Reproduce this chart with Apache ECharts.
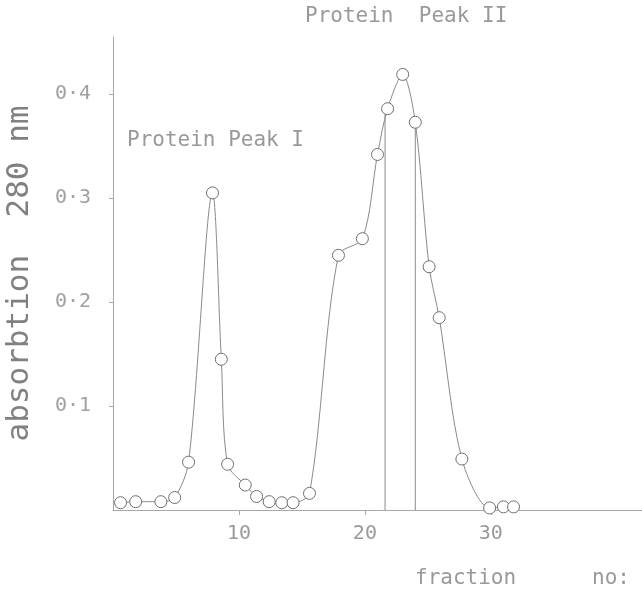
<!DOCTYPE html>
<html>
<head>
<meta charset="utf-8">
<script src="https://cdn.jsdelivr.net/npm/echarts@6/dist/echarts.min.js"></script>
<style>
  html, body { margin: 0; padding: 0; background: #fff; }
  #chart { width: 642px; height: 602px; }
</style>
</head>
<body>
<div id="chart"></div>
<script>
// fraction number and absorbance at 280 nm
const fractions = [0.6, 1.8, 3.8, 4.9, 6.0, 7.9, 8.6, 9.1, 10.5, 11.4, 12.4, 13.4, 14.3, 15.6,
                   17.9, 19.8, 21.0, 21.8, 23.0, 24.0, 25.1, 25.9, 27.7, 29.9, 31.0, 31.8];
const absorbance = [0.007, 0.008, 0.008, 0.012, 0.046, 0.305, 0.145, 0.044, 0.024, 0.013, 0.008, 0.007, 0.007, 0.016,
                    0.245, 0.261, 0.342, 0.386, 0.419, 0.373, 0.234, 0.185, 0.049, 0.002, 0.003, 0.003];
// pooled fraction cut lines under peak II
const cutFractions = [21.6, 24.0];
const cutTops = [0.382, 0.370];
const xTicks = [10, 20, 30];
const yTicks = [0.1, 0.2, 0.3, 0.4];

const chart = echarts.init(document.getElementById('chart'));
const mono = "'DejaVu Sans Mono', monospace";
const ink = '#8a8a8a';

const option = {
  backgroundColor: '#fff',
  animation: false,
  grid: { left: 113, right: 0, top: 37, bottom: 92, containLabel: false, outerBoundsMode: 'none' },
  xAxis: {
    type: 'value',
    min: 0,
    max: 42,
    axisLine: { show: true, lineStyle: { color: '#a8a8a8', width: 1 } },
    axisTick: { show: true, length: 5, lineStyle: { color: '#a8a8a8' }, customValues: xTicks },
    axisLabel: {
      customValues: xTicks,
      color: '#999',
      fontFamily: mono,
      fontSize: 20,
      margin: 14
    },
    splitLine: { show: false }
  },
  yAxis: {
    type: 'value',
    min: 0,
    max: 0.455,
    name: 'absorbtion  280 nm',
    nameLocation: 'middle',
    nameGap: 78,
    nameTextStyle: { color: '#808080', fontFamily: mono, fontSize: 31 },
    axisLine: { show: true, lineStyle: { color: '#a8a8a8', width: 1 } },
    axisTick: { show: true, length: 4, lineStyle: { color: '#a8a8a8' }, customValues: yTicks },
    axisLabel: {
      customValues: yTicks,
      color: '#a0a0a0',
      fontFamily: mono,
      fontSize: 20,
      margin: 22,
      formatter: v => v.toFixed(1).replace('.', '·')
    },
    splitLine: { show: false }
  },
  series: [
    {
      type: 'line',
      data: fractions.map((f, i) => [f, absorbance[i]]),
      smooth: 0.3,
      symbol: 'circle',
      symbolSize: 12,
      lineStyle: { color: ink, width: 1 },
      itemStyle: { color: '#fff', borderColor: '#707070', borderWidth: 1 },
      z: 3
    },
    ...cutFractions.map((f, i) => ({
      type: 'line',
      data: [[f, 0], [f, cutTops[i]]],
      symbol: 'none',
      lineStyle: { color: ink, width: 1 },
      z: 2
    }))
  ],
  graphic: [
    { type: 'text', left: 305, top: 6,
      style: { text: 'Protein  Peak II', fill: '#999', font: "21px 'DejaVu Sans Mono'" } },
    { type: 'text', left: 127, top: 130,
      style: { text: 'Protein Peak I', fill: '#999', font: "21px 'DejaVu Sans Mono'" } },
    { type: 'text', left: 415, top: 568,
      style: { text: 'fraction      no:', fill: '#999', font: "21px 'DejaVu Sans Mono'" } }
  ]
};

chart.setOption(option);
</script>
</body>
</html>
